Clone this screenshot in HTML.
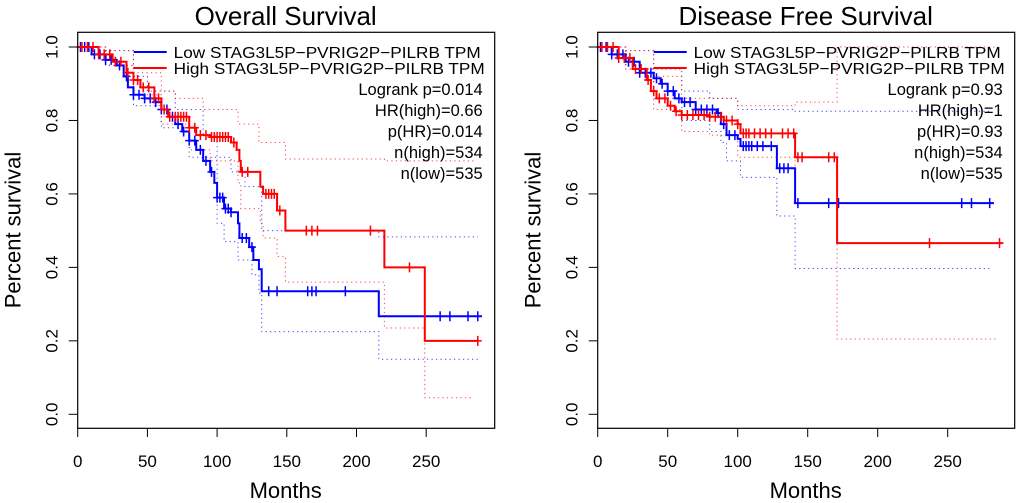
<!DOCTYPE html>
<html><head><meta charset="utf-8"><style>
body{margin:0;background:#fff}
svg{display:block;font-family:"Liberation Sans",sans-serif}
</style></head><body>
<svg id="svg" width="1020" height="503" xmlns="http://www.w3.org/2000/svg"></svg>
<script>
// ---- Overall Survival data ----
const osLowTimes=[0,10,20,28,33,36,40,48,55,60,65,70,75,80,85,90,95,98,100,105,110,115,116,123,126,130,132,216];
const osLowSurv=[1,0.98,0.965,0.95,0.92,0.89,0.87,0.86,0.85,0.83,0.81,0.79,0.77,0.745,0.72,0.69,0.66,0.63,0.59,0.56,0.55,0.52,0.48,0.455,0.42,0.395,0.335,0.267];
const osLowEnd=290;
const osLowUpT=[0,20,40,50,70,90,100,110,120,132,216];
const osLowUpS=[1,0.99,0.92,0.88,0.83,0.76,0.7,0.66,0.62,0.5,0.483];
const osLowLoT=[0,20,40,60,80,100,105,115,125,130,132,216];
const osLowLoS=[1,0.95,0.84,0.78,0.7,0.52,0.47,0.42,0.38,0.33,0.225,0.15];
const osLowCens=[2,5,8,12,16,20,24,30,35,40,44,48,52,56,60,64,68,72,76,80,84,88,92,96,100,102,104,106,108,110,118,121,125,137,143,165,168,171,192,260,267,280,287];
const osHighTimes=[0,15,25,35,40,45,55,60,65,80,85,95,110,114,116,117,126,131,133,143,149,220,249];
const osHighSurv=[1,0.98,0.96,0.93,0.91,0.89,0.86,0.83,0.81,0.78,0.76,0.755,0.74,0.72,0.69,0.66,0.66,0.62,0.6,0.555,0.5,0.4,0.2];
const osHighEnd=287;
const osHighUpT=[0,20,40,60,70,90,115,130,142,149,220];
const osHighUpS=[1,0.99,0.93,0.88,0.86,0.83,0.79,0.74,0.74,0.695,0.69];
const osHighLoT=[0,20,40,60,80,95,115,117,131,133,143,149,220,249];
const osHighLoS=[1,0.95,0.87,0.79,0.72,0.69,0.63,0.56,0.52,0.48,0.43,0.36,0.235,0.045];
const osHighCens=[3,7,11,15,19,23,27,31,36,40,43,47,51,55,58,62,66,70,72,74,76,78,80,84,88,92,96,98,100,102,104,106,108,112,118,122,135,137,139,141,145,164,168,172,210,238,287];
// ---- Disease Free Survival data ----
const dfsLowTimes=[0,10,20,30,40,45,50,55,60,70,85,88,92,100,102,128,141];
const dfsLowSurv=[1,0.98,0.96,0.93,0.915,0.9,0.88,0.86,0.85,0.83,0.82,0.79,0.76,0.75,0.73,0.67,0.575];
const dfsLowEnd=283;
const dfsLowUpT=[0,20,40,60,80,100,141];
const dfsLowUpS=[1,0.99,0.94,0.88,0.86,0.83,0.825];
const dfsLowLoT=[0,20,40,60,80,88,92,102,128,141];
const dfsLowLoS=[1,0.94,0.86,0.8,0.77,0.74,0.69,0.645,0.54,0.397];
const dfsLowCens=[2,6,10,14,18,22,26,30,34,38,42,46,50,54,58,62,66,70,74,78,82,86,90,94,98,104,106,108,110,114,118,124,130,133,136,143,165,172,260,267,280];
const dfsHighTimes=[0,15,25,35,38,42,50,55,60,80,90,100,102,141,171];
const dfsHighSurv=[1,0.97,0.94,0.91,0.88,0.86,0.84,0.825,0.815,0.81,0.8,0.79,0.765,0.7,0.466];
const dfsHighEnd=289;
const dfsHighUpT=[0,20,40,60,80,100,141,171];
const dfsHighUpS=[1,0.99,0.92,0.86,0.86,0.84,0.85,1.0];
const dfsHighLoT=[0,20,40,60,80,100,141,171];
const dfsHighLoS=[1,0.94,0.83,0.77,0.76,0.7,0.575,0.205];
const dfsHighCens=[3,7,11,15,19,23,27,31,36,40,44,48,52,56,60,64,68,72,76,80,84,88,92,96,100,104,106,108,112,116,120,124,132,136,140,143,146,165,169,237,287];

const xTicks=[0,50,100,150,200,250];
const yTicks=[0,0.2,0.4,0.6,0.8,1.0];
const yTickLabels=["0.0","0.2","0.4","0.6","0.8","1.0"];

const NS="http://www.w3.org/2000/svg";
const svg=document.getElementById('svg');
function mk(tag,attrs,parent){const e=document.createElementNS(NS,tag);for(const k in attrs)e.setAttribute(k,attrs[k]);(parent||svg).appendChild(e);return e;}

function panel(cfg){
  const g=mk('g',{});
  
  
  const X=t=>cfg.x0+t*cfg.kx;
  const Y=s=>414.3-s*367.3;
  function step(T,S,end){let d='M'+X(T[0])+','+Y(S[0]);for(let i=1;i<T.length;i++){d+='H'+X(T[i])+'V'+Y(S[i]);}d+='H'+X(end);return d;}
  function sAt(T,S,t){let v=S[0];for(let i=0;i<T.length;i++){if(T[i]<=t)v=S[i];}return v;}
  const series=[
    {T:cfg.lowT,S:cfg.lowS,end:cfg.lowEnd,uT:cfg.lowUpT,uS:cfg.lowUpS,lT:cfg.lowLoT,lS:cfg.lowLoS,c:cfg.lowC,col:'#0000ff',n:'low'},
    {T:cfg.highT,S:cfg.highS,end:cfg.highEnd,uT:cfg.highUpT,uS:cfg.highUpS,lT:cfg.highLoT,lS:cfg.highLoS,c:cfg.highC,col:'#ff0000',n:'high'}];
  series.forEach(s=>{
    const up=mk('path',{d:step(s.uT,s.uS,s.end-3),fill:'none',stroke:s.col,'stroke-width':1,'stroke-dasharray':'1.2 3.3',opacity:0.75},g);
    
    
    const lo=mk('path',{d:step(s.lT,s.lS,s.end-3),fill:'none',stroke:s.col,'stroke-width':1,'stroke-dasharray':'1.2 3.3',opacity:0.75},g);
    
    
  });
  series.forEach(s=>{
    const p=mk('path',{d:step(s.T,s.S,s.end),fill:'none',stroke:s.col,'stroke-width':2},g);
    
    
    let d='';
    s.c.forEach(t=>{const x=X(t),y=Y(sAt(s.T,s.S,t));d+='M'+(x-4)+','+y+'H'+(x+4)+'M'+x+','+(y-5)+'V'+(y+5);});
    const c=mk('path',{d:d,fill:'none',stroke:s.col,'stroke-width':1.5},g);
    
    
  });
  const box=mk('rect',{x:cfg.bx,y:32.3,width:417,height:396,fill:'none',stroke:'#000','stroke-width':1.2},g);
  
  
  xTicks.forEach(t=>{
    const l=mk('line',{x1:X(t),x2:X(t),y1:428.3,y2:437,stroke:'#000','stroke-width':1},g);
    
    
    const tx=mk('text',{x:X(t),y:467,'font-size':17,'text-anchor':'middle'},g);tx.textContent=t;
    
    
  });
  yTicks.forEach((v,i)=>{
    const l=mk('line',{x1:cfg.bx,x2:cfg.bx-9,y1:Y(v),y2:Y(v),stroke:'#000','stroke-width':1},g);
    
    
    const tx=mk('text',{x:cfg.bx-20,y:Y(v),'font-size':17,'text-anchor':'middle',transform:'rotate(-90 '+(cfg.bx-20)+' '+Y(v)+')'},g);tx.textContent=yTickLabels[i];
    
    
  });
  const ti=mk('text',{x:cfg.bx+208,y:25,'font-size':26,'text-anchor':'middle'},g);ti.textContent=cfg.title;
  
  
  const xl=mk('text',{x:cfg.bx+208,y:498,'font-size':22,'text-anchor':'middle'},g);xl.textContent='Months';
  
  
  const yx=cfg.bx-57,yy=230;
  const yl=mk('text',{x:yx,y:yy,'font-size':22,'text-anchor':'middle',transform:'rotate(-90 '+yx+' '+yy+')'},g);yl.textContent='Percent survival';
  
  
  const lx=cfg.bx+56;
  [['Low STAG3L5P\u2212PVRIG2P\u2212PILRB TPM','#0000ff',52],['High STAG3L5P\u2212PVRIG2P\u2212PILRB TPM','#ff0000',68]].forEach((e,i)=>{
    const ln=mk('line',{x1:lx,x2:lx+33,y1:e[2],y2:e[2],stroke:e[1],'stroke-width':2},g);
    
    
    const tx=mk('text',{x:lx+40,y:e[2]+6,'font-size':16,textLength:i?311:307,lengthAdjust:'spacingAndGlyphs'},g);tx.textContent=e[0];
    
    
  });
  cfg.stats.forEach((s,i)=>{
    const tx=mk('text',{x:cfg.bx+405,y:95+i*21,'font-size':16.5,'text-anchor':'end'},g);tx.textContent=s;
    
    
  });
}
panel({name:'overall-survival-panel',title:'Overall Survival',bx:77.7,x0:77.7,kx:1.394,
  lowT:osLowTimes,lowS:osLowSurv,lowEnd:osLowEnd,lowUpT:osLowUpT,lowUpS:osLowUpS,lowLoT:osLowLoT,lowLoS:osLowLoS,lowC:osLowCens,
  highT:osHighTimes,highS:osHighSurv,highEnd:osHighEnd,highUpT:osHighUpT,highUpS:osHighUpS,highLoT:osHighLoT,highLoS:osHighLoS,highC:osHighCens,
  stats:['Logrank p=0.014','HR(high)=0.66','p(HR)=0.014','n(high)=534','n(low)=535']});
panel({name:'disease-free-survival-panel',title:'Disease Free Survival',bx:597.7,x0:597.7,kx:1.4,
  lowT:dfsLowTimes,lowS:dfsLowSurv,lowEnd:dfsLowEnd,lowUpT:dfsLowUpT,lowUpS:dfsLowUpS,lowLoT:dfsLowLoT,lowLoS:dfsLowLoS,lowC:dfsLowCens,
  highT:dfsHighTimes,highS:dfsHighSurv,highEnd:dfsHighEnd,highUpT:dfsHighUpT,highUpS:dfsHighUpS,highLoT:dfsHighLoT,highLoS:dfsHighLoS,highC:dfsHighCens,
  stats:['Logrank p=0.93','HR(high)=1','p(HR)=0.93','n(high)=534','n(low)=535']});
</script>
</body></html>
